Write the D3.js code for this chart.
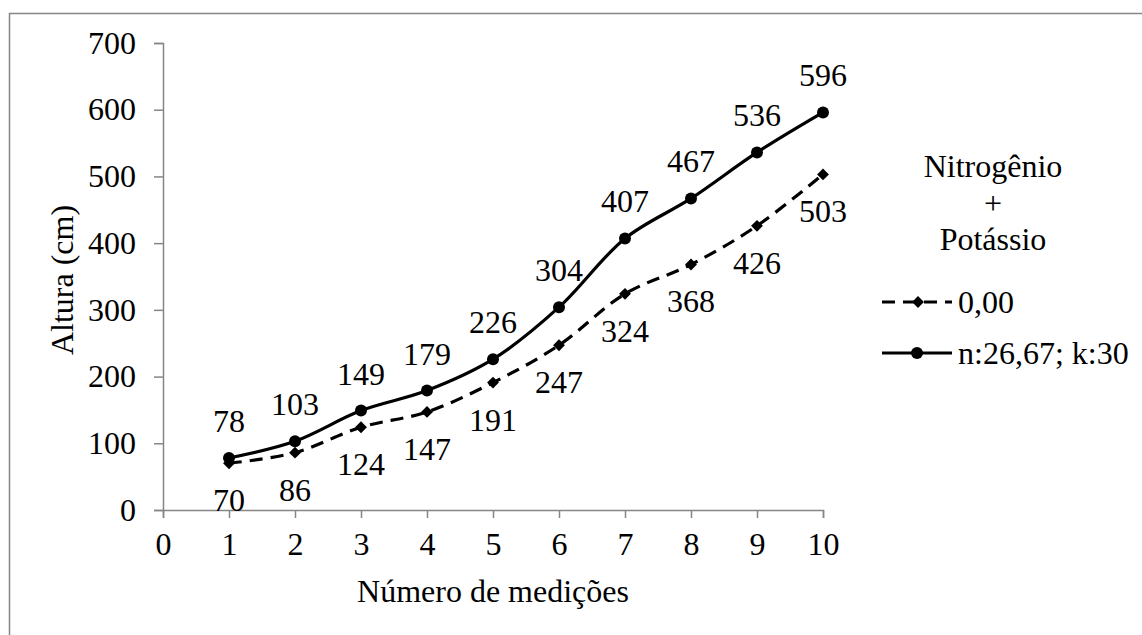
<!DOCTYPE html>
<html>
<head>
<meta charset="utf-8">
<script src="https://cdn.jsdelivr.net/npm/d3@7"></script>
</head>
<body style="margin:0">
<svg id="chart" width="1142" height="635" style="display:block"></svg>
<script>
const medicoes = [1, 2, 3, 4, 5, 6, 7, 8, 9, 10];
const serieZero = [70, 86, 124, 147, 191, 247, 324, 368, 426, 503];
const serieNK = [78, 103, 149, 179, 226, 304, 407, 467, 536, 596];
const seriesNames = ["0,00", "n:26,67; k:30"];
const xTicks = [0, 1, 2, 3, 4, 5, 6, 7, 8, 9, 10];
const yTicks = [0, 100, 200, 300, 400, 500, 600, 700];
const legendTitle = ["Nitrogênio", "+", "Potássio"];

const svg = d3.select("#chart");
const axisColor = "#868686";

svg.append("rect").attr("x", 9.5).attr("y", 13.5).attr("width", 1200).attr("height", 700)
  .attr("fill", "none").attr("stroke", axisColor).attr("stroke-width", 1.5);

const x = d3.scaleLinear().domain([0, 10]).range([163, 823]);
const y = d3.scaleLinear().domain([0, 700]).range([510, 43]);

const yAxis = svg.append("g").attr("transform", `translate(${x(0)},0)`)
  .call(d3.axisLeft(y).tickValues(yTicks).tickSize(9).tickPadding(18).tickFormat(d3.format("d")));
const xAxis = svg.append("g").attr("transform", `translate(0,${y(0)})`)
  .call(d3.axisBottom(x).tickValues(xTicks).tickSize(8).tickPadding(14).tickFormat(d3.format("d")));
[yAxis, xAxis].forEach(g => {
  g.select(".domain").attr("stroke", axisColor).attr("stroke-width", 1.5);
  g.selectAll(".tick line").attr("stroke", axisColor).attr("stroke-width", 1.5);
  g.selectAll(".tick text").attr("fill", "#000");
});

svg.append("text").attr("x", 493).attr("y", 602).attr("text-anchor", "middle").text("Número de medições");
svg.append("text").attr("transform", "translate(73,280) rotate(-90)").attr("text-anchor", "middle").text("Altura (cm)");

const line = d3.line().x((d, i) => x(medicoes[i])).y(d => y(d)).curve(d3.curveCatmullRom.alpha(0.5));

svg.append("path").datum(serieZero).attr("d", line).attr("fill", "none")
  .attr("stroke", "#000").attr("stroke-width", 3.2).attr("stroke-dasharray", "13,8");
svg.append("path").datum(serieNK).attr("d", line).attr("fill", "none")
  .attr("stroke", "#000").attr("stroke-width", 3.2);

const diamond = d3.symbol().type(d3.symbolSquare).size(70);
svg.selectAll(".mz").data(serieZero).join("path")
  .attr("transform", (d, i) => `translate(${x(medicoes[i])},${y(d)}) rotate(45)`)
  .attr("d", diamond).attr("fill", "#000");
svg.selectAll(".mn").data(serieNK).join("circle")
  .attr("cx", (d, i) => x(medicoes[i])).attr("cy", d => y(d)).attr("r", 6).attr("fill", "#000");

svg.selectAll(".lz").data(serieZero).join("text")
  .attr("x", (d, i) => x(medicoes[i])).attr("y", d => y(d) + 48)
  .attr("text-anchor", "middle").text(d => d);
svg.selectAll(".ln").data(serieNK).join("text")
  .attr("x", (d, i) => x(medicoes[i])).attr("y", d => y(d) - 26)
  .attr("text-anchor", "middle").text(d => d);

legendTitle.forEach((t, i) => {
  svg.append("text").attr("x", 993).attr("y", 177 + i * 36.5).attr("text-anchor", "middle").text(t);
});
const lg = [{name: seriesNames[0], dash: "13,8", y: 302, marker: "diamond"},
            {name: seriesNames[1], dash: null, y: 353, marker: "circle"}];
lg.forEach(l => {
  svg.append("line").attr("x1", 882).attr("x2", 952).attr("y1", l.y).attr("y2", l.y)
    .attr("stroke", "#000").attr("stroke-width", 3.2).attr("stroke-dasharray", l.dash);
  if (l.marker === "diamond") {
    svg.append("path").attr("transform", `translate(918,${l.y}) rotate(45)`).attr("d", diamond).attr("fill", "#000");
  } else {
    svg.append("circle").attr("cx", 917).attr("cy", l.y).attr("r", 6).attr("fill", "#000");
  }
  svg.append("text").attr("x", 958).attr("y", l.y + 11).text(l.name);
});

// apply the serif font to every text at the end
svg.selectAll("g").attr("font-family", null).attr("font-size", null);
svg.selectAll("text")
  .style("font-family", "'Times New Roman'")
  .style("font-size", "32px")
  .style("fill", "#000");
</script>
</body>
</html>
